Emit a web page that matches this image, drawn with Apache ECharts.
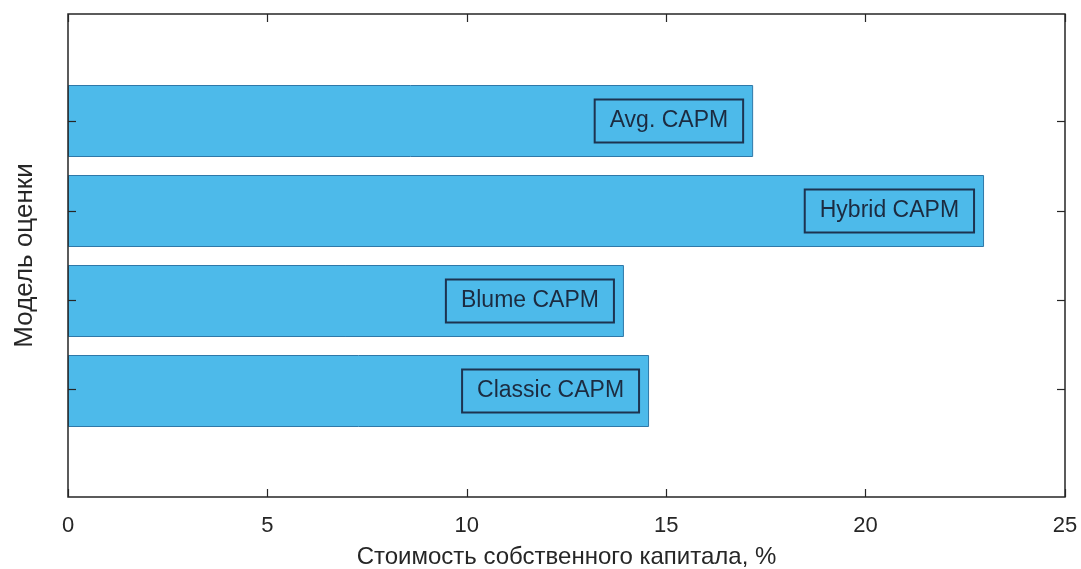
<!DOCTYPE html>
<html>
<head>
<meta charset="utf-8">
<script src="https://cdn.jsdelivr.net/npm/echarts@6/dist/echarts.min.js"></script>
<style>
html,body{margin:0;padding:0;background:#fff;}
#main{width:1081px;height:569px;}
</style>
</head>
<body>
<div id="main"></div>
<script>
// ---- data ----
const categories = ['Classic CAPM', 'Blume CAPM', 'Hybrid CAPM', 'Avg. CAPM'];
const costOfEquity = [14.57, 13.94, 22.97, 17.18];
const xTicks = [0, 5, 10, 15, 20, 25];
const yTickPositions = [1, 2, 3, 4];
const xName = 'Стоимость собственного капитала, %';
const yName = 'Модель оценки';

const FONT = '"Liberation Sans", Arial, Helvetica, sans-serif';
const AX = '#262626';

const chart = echarts.init(document.getElementById('main'));

const xMin = xTicks[0], xMax = xTicks[xTicks.length - 1], xStep = xTicks[1] - xTicks[0];
function ticks(extra) {
  return Object.assign({ show: true, inside: true, length: 8, lineStyle: { color: AX, width: 1.2 } }, extra || {});
}

chart.setOption({
  animation: false,
  backgroundColor: '#ffffff',
  grid: [
    { left: 68, right: 16, top: 14, bottom: 72, show: true, borderColor: AX, borderWidth: 1.5,
      backgroundColor: 'transparent', containLabel: false, outerBoundsMode: 'none', z: 10 },
    { left: 68, right: 16, top: 76, bottom: 133, show: false, containLabel: false, outerBoundsMode: 'none' }
  ],
  xAxis: [
    {
      gridIndex: 0, type: 'value', position: 'bottom', z: 10,
      min: xMin, max: xMax, interval: xStep,
      axisLine: { show: false, onZero: false },
      axisTick: ticks(),
      axisLabel: { show: true, margin: 18, fontSize: 22, color: AX, fontFamily: FONT },
      splitLine: { show: false },
      name: xName, nameLocation: 'middle', nameGap: 48,
      nameTextStyle: { fontSize: 24, color: AX, fontFamily: FONT }
    },
    {
      gridIndex: 0, type: 'value', position: 'top', z: 10,
      min: xMin, max: xMax, interval: xStep,
      axisLine: { show: false, onZero: false },
      axisTick: ticks(),
      axisLabel: { show: false },
      splitLine: { show: false }
    },
    {
      gridIndex: 1, type: 'value',
      min: xMin, max: xMax,
      show: false, splitLine: { show: false },
      axisLine: { onZero: false }
    }
  ],
  yAxis: [
    {
      gridIndex: 0, type: 'value', position: 'left', z: 10,
      min: -0.2, max: 5.2,
      axisLine: { show: false, onZero: false },
      axisTick: ticks({ customValues: yTickPositions }),
      axisLabel: { show: false },
      splitLine: { show: false },
      name: yName, nameLocation: 'middle', nameGap: 30,
      nameTextStyle: { fontSize: 26, color: AX, fontFamily: FONT }
    },
    {
      gridIndex: 0, type: 'value', position: 'right', z: 10,
      min: -0.2, max: 5.2,
      axisLine: { show: false, onZero: false },
      axisTick: ticks({ customValues: yTickPositions }),
      axisLabel: { show: false },
      splitLine: { show: false }
    },
    {
      gridIndex: 1, type: 'category', data: categories,
      show: false,
      axisLine: { onZero: false }
    }
  ],
  series: [
    {
      type: 'bar',
      xAxisIndex: 2, yAxisIndex: 2,
      data: costOfEquity,
      barWidth: '80%',
      itemStyle: { color: '#4DBAEA', borderColor: '#2f78a8', borderWidth: 1 },
      label: {
        show: true,
        position: 'insideRight',
        distance: 10,
        formatter: '{b}',
        fontSize: 23,
        lineHeight: 23,
        fontFamily: FONT,
        color: '#1c2b40',
        borderColor: '#1d3350',
        borderWidth: 2,
        padding: [10, 15]
      }
    }
  ]
});
</script>
</body>
</html>
